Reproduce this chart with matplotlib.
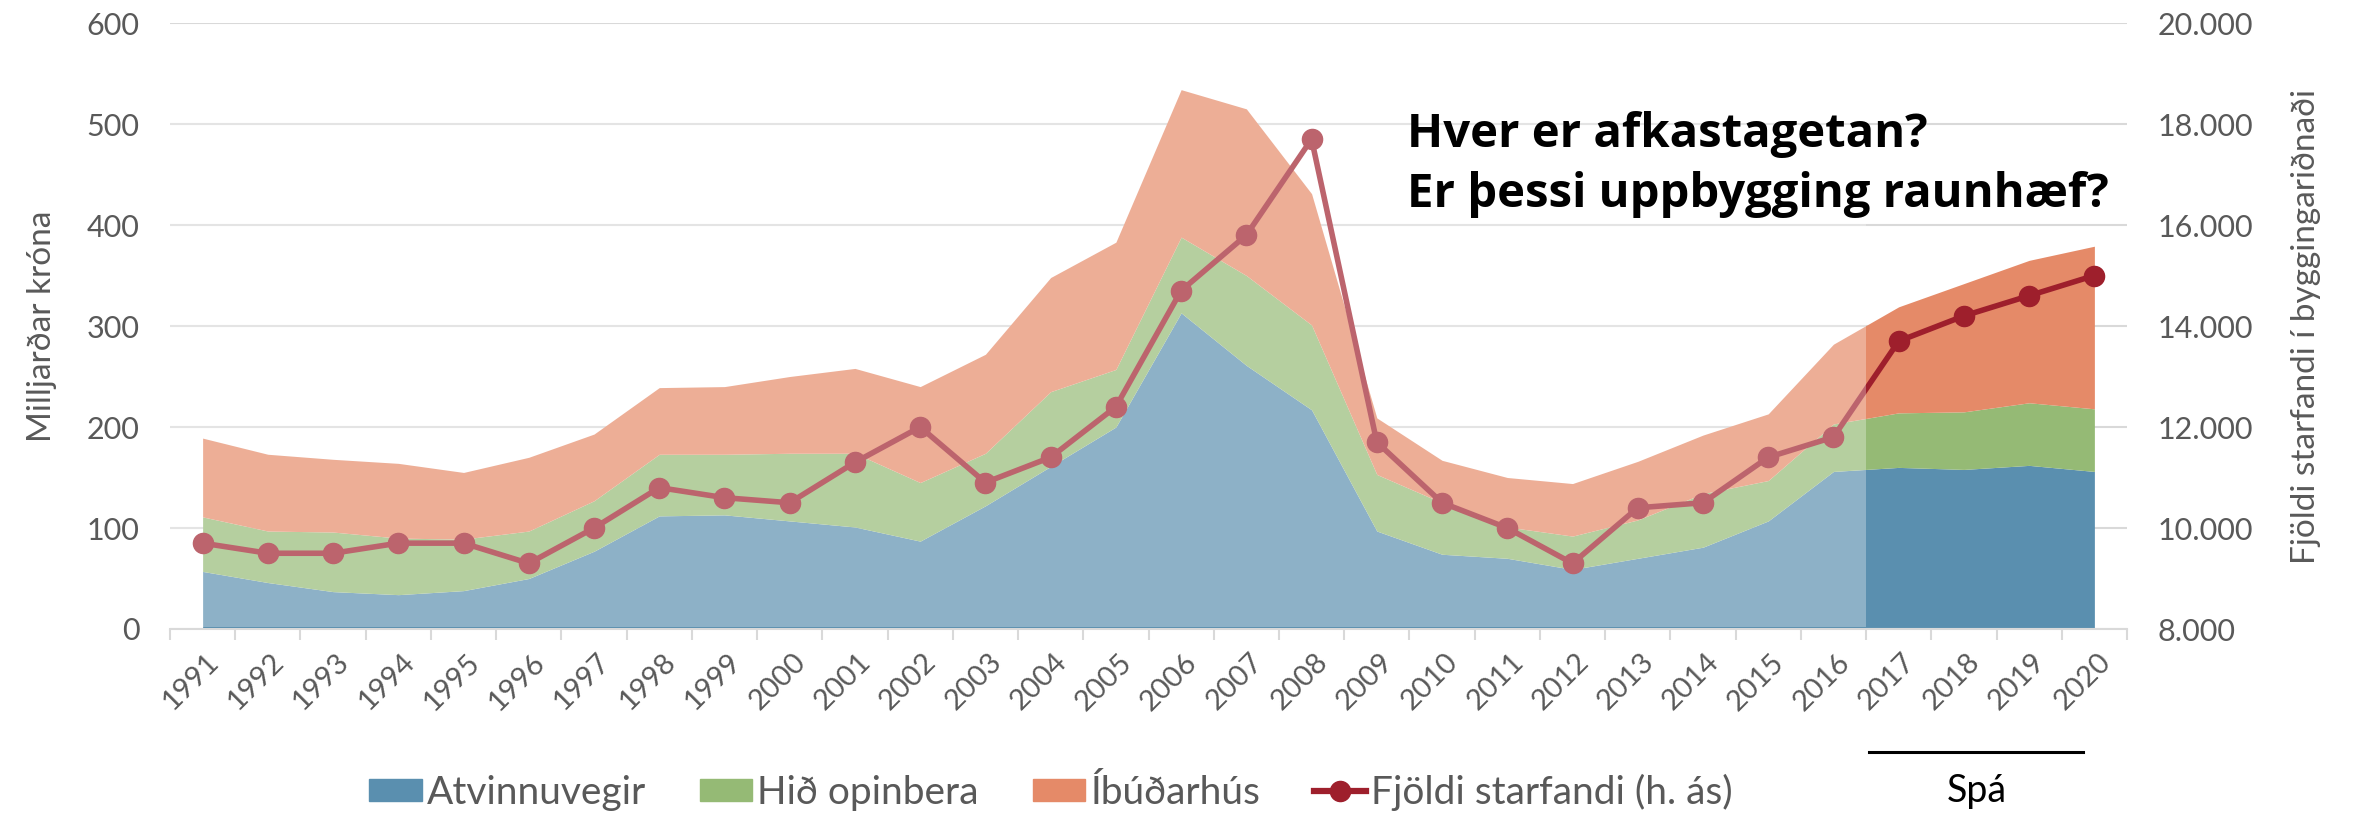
import matplotlib
matplotlib.use("Agg")
import matplotlib.pyplot as plt
import matplotlib.transforms as mtransforms
from matplotlib.patches import Rectangle, Patch
from matplotlib.lines import Line2D
import numpy as np

years = [str(y) for y in range(1991, 2021)]
atvinnuvegir = [57, 46, 37, 34, 38, 50, 77, 112, 113, 107, 101, 87, 122, 161, 200, 313, 261, 217,
                97, 74, 70, 59, 70, 81, 107, 156, 160, 158, 162, 156]
opinbera_top = [111, 97, 96, 90, 89, 97, 127, 173, 173, 174, 174, 145, 174, 235, 257, 388, 350, 301,
                153, 125, 101, 92, 108, 134, 147, 203, 214, 215, 224, 218]
ibudarhus_top = [189, 173, 168, 164, 155, 170, 193, 239, 240, 250, 258, 240, 272, 348, 383, 534, 515, 431,
                 209, 167, 150, 144, 166, 192, 213, 282, 319, 342, 365, 379]
starfandi = [9700, 9500, 9500, 9700, 9700, 9300, 10000, 10800, 10600, 10500, 11300, 12000, 10900, 11400,
             12400, 14700, 15800, 17700, 11700, 10500, 10000, 9300, 10400, 10500, 11400, 11800,
             13700, 14200, 14600, 15000]
left_ticks = [0, 100, 200, 300, 400, 500, 600]
right_ticks = [8000, 10000, 12000, 14000, 16000, 18000, 20000]
right_tick_labels = ["8.000", "10.000", "12.000", "14.000", "16.000", "18.000", "20.000"]
forecast_start = "2017"

C_BLUE = "#5A8FAF"
C_GREEN = "#95BA75"
C_ORANGE = "#E58A68"
C_LINE = "#9E1F2C"
C_TEXT = "#595959"
C_GRID = "#D9D9D9"

plt.rcParams['font.family'] = ['Lato', 'DejaVu Sans']

W, H = 2368, 813
fig = plt.figure(figsize=(W / 100, H / 100), dpi=100)
ax = fig.add_axes([170 / W, 1 - 629 / H, (2127 - 170) / W, (629 - 23) / H])
x = np.arange(len(years))

ax.fill_between(x, 0, atvinnuvegir, color=C_BLUE, lw=0, zorder=2)
ax.fill_between(x, atvinnuvegir, opinbera_top, color=C_GREEN, lw=0, zorder=2)
ax.fill_between(x, opinbera_top, ibudarhus_top, color=C_ORANGE, lw=0, zorder=2)

ax.set_xlim(-0.5, len(years) - 0.5)
ax.set_ylim(0, 600)
ax.set_yticks(left_ticks)
ax.set_yticklabels([str(v) for v in left_ticks])
ax.yaxis.grid(True, color=C_GRID, lw=1.5, zorder=0)
ax.set_axisbelow(True)
for s in ['left', 'right', 'top']:
    ax.spines[s].set_visible(False)
ax.spines['bottom'].set_color(C_GRID)
ax.spines['bottom'].set_linewidth(1.5)
ax.tick_params(axis='y', length=0, pad=22, labelsize=22, labelcolor=C_TEXT)

ax.set_xticks(np.arange(-0.5, len(years)), minor=False)
ax.set_xticklabels([])
ax.set_xticks(x, minor=True)
ax.set_xticklabels(years, minor=True)
ax.tick_params(axis='x', which='major', length=8, width=1.5, color=C_GRID)
ax.tick_params(axis='x', which='minor', length=0, pad=8, labelsize=21, labelcolor=C_TEXT)
for lab in ax.get_xticklabels(minor=True):
    lab.set_rotation(45)
    lab.set_ha('right')
    lab.set_va('center')
    lab.set_rotation_mode('anchor')
    lab.set_transform(lab.get_transform() + mtransforms.ScaledTranslation(0.12, -0.18, fig.dpi_scale_trans))
ax.set_ylabel("Milljarðar króna", fontsize=24, color=C_TEXT, labelpad=21)

ax2 = ax.twinx()
ax2.plot(x, starfandi, color=C_LINE, lw=4, marker='o', markersize=14.5, zorder=3)
ax2.set_ylim(8000, 20000)
ax2.set_yticks(right_ticks)
ax2.set_yticklabels(right_tick_labels)
ax2.tick_params(axis='y', length=0, pad=22, labelsize=22, labelcolor=C_TEXT)
for s in ['left', 'right', 'top', 'bottom']:
    ax2.spines[s].set_visible(False)
ax2.set_ylabel("Fjöldi starfandi í byggingariðnaði", fontsize=24, color=C_TEXT, labelpad=27)

# light overlay on historical part
fs = years.index(forecast_start) - 0.5
ax2.add_patch(Rectangle((-0.5, 8000 + 30), fs + 0.5, 11000, facecolor='white', alpha=0.31,
                        lw=0, zorder=5))

fig.text(1407 / W, 1 - 147 / H, "Hver er afkastagetan?", fontsize=34, fontweight='bold',
         family=['Open Sans', 'DejaVu Sans'], color='black', ha='left', va='baseline')
fig.text(1407 / W, 1 - 207 / H, "Er þessi uppbygging raunhæf?", fontsize=34, fontweight='bold',
         family=['Open Sans', 'DejaVu Sans'], color='black', ha='left', va='baseline')

handles = [Patch(color=C_BLUE), Patch(color=C_GREEN), Patch(color=C_ORANGE),
           Line2D([], [], color=C_LINE, lw=4.5, marker='o', markersize=14.5)]
labels = ["Atvinnuvegir", "Hið opinbera", "Íbúðarhús", "Fjöldi starfandi (h. ás)"]
leg = fig.legend(handles, labels, loc='center', bbox_to_anchor=(1051 / W, 1 - 792 / H), ncol=4,
                 frameon=False, fontsize=28, handlelength=1.34, handleheight=0.51,
                 handletextpad=0.13, columnspacing=1.39, borderpad=0, borderaxespad=0)
for t in leg.get_texts():
    t.set_color(C_TEXT)

fig.add_artist(Line2D([1869 / W, 2083 / W], [1 - 752 / H, 1 - 752 / H], color='black', lw=2.2))
fig.text(1977 / W, 1 - 802 / H, "Spá", fontsize=27, ha='center', va='baseline', color='black')

fig.savefig("out.png", dpi=100)
